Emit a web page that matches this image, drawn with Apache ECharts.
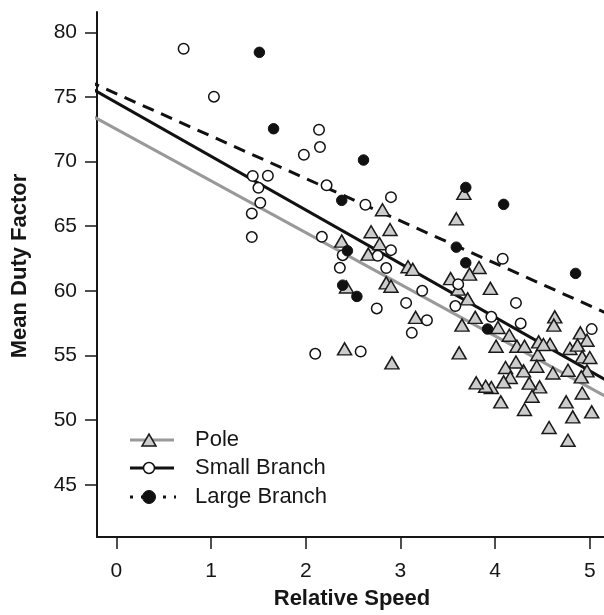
<!DOCTYPE html>
<html>
<head>
<meta charset="utf-8">
<script src="https://cdn.jsdelivr.net/npm/echarts@6/dist/echarts.min.js"></script>
<style>html,body{margin:0;padding:0;background:#fff}#c{width:604px;height:615px}</style>
</head>
<body>
<div id="c"></div>
<script>
// ---- data ----
var xTicks = [0, 1, 2, 3, 4, 5];
var yTicks = [45, 50, 55, 60, 65, 70, 75, 80];

var poleData = [
  [3.67,67.54],[3.59,65.57],[2.81,66.27],[2.69,64.57],[2.89,64.75],[2.78,63.64],
  [2.66,62.84],[2.38,63.85],[3.08,61.86],[3.13,61.66],[3.83,61.81],[3.73,61.29],
  [3.53,60.95],[3.61,60.13],[3.71,59.38],[3.95,60.19],[2.85,60.62],[2.90,60.36],
  [3.16,57.95],[3.79,57.95],[3.65,57.35],[4.03,57.17],[4.15,56.57],[4.01,55.72],
  [4.23,55.72],[4.31,55.72],[4.45,55.08],[4.46,56.05],[4.58,55.87],[4.63,57.99],
  [4.62,57.35],[4.79,55.54],[4.90,56.75],[4.97,56.18],[4.87,55.80],[4.92,54.89],
  [5.00,54.84],[4.97,53.81],[4.91,53.35],[4.92,52.10],[4.77,53.86],[4.61,53.65],
  [4.44,54.17],[4.47,52.57],[4.39,51.85],[4.36,52.86],[4.30,53.81],[4.22,54.50],
  [4.11,54.07],[4.16,53.30],[4.09,52.96],[3.96,52.52],[3.90,52.62],[3.80,52.88],
  [4.06,51.41],[4.31,50.82],[4.75,51.41],[5.02,50.64],[4.82,50.25],[4.57,49.43],
  [4.77,48.44],[3.62,55.20],[2.91,54.43],[2.41,55.51],[2.43,60.30],[4.51,55.85]
];
var smallData = [
  [0.71,78.73],[1.03,75.02],[2.14,72.46],[2.15,71.12],[1.98,70.53],[1.44,68.88],
  [1.60,68.90],[1.50,67.97],[1.52,66.81],[1.43,65.99],[1.43,64.16],[2.22,68.16],
  [2.17,64.18],[2.39,62.76],[2.36,61.78],[2.63,66.66],[2.90,67.25],[2.90,63.15],
  [2.76,62.71],[2.85,61.76],[4.08,62.48],[2.75,58.64],[2.10,55.13],[2.58,55.31],
  [3.23,60.00],[3.06,59.07],[3.28,57.73],[3.12,56.75],[3.61,60.52],[3.58,58.82],
  [4.22,59.07],[3.96,57.99],[4.27,57.48],[5.02,57.04]
];
var largeData = [
  [1.51,78.45],[1.66,72.54],[2.38,67.00],[2.44,63.10],[2.61,70.12],[2.39,60.44],
  [2.54,59.57],[3.69,68.00],[4.09,66.69],[3.59,63.38],[3.69,62.17],[4.85,61.35],
  [3.92,57.05]
];
// fitted lines (end points)
var poleFit  = [[-0.3, 73.70], [5.3, 51.30]];
var smallFit = [[-0.3, 75.80], [5.3, 52.56]];
var largeFit = [[-0.3, 76.23], [5.3, 57.87]];

var legendNames = ['Pole', 'Small Branch', 'Large Branch'];

// ---- chart ----
var ink = '#161616';
var chart = echarts.init(document.getElementById('c'), null, {renderer: 'canvas'});
var font = 'Liberation Sans, Arial, Helvetica, sans-serif';

function lineSeries(data, color, type, w) {
  return {
    type: 'line', data: data, symbol: 'none', silent: true, clip: true, z: 2,
    lineStyle: {color: color, width: w, type: type}, animation: false
  };
}

var legX0 = 130, legX1 = 174, legM = 149, legT = 195, legY = [440, 468, 497];

chart.setOption({
  animation: false,
  grid: {left: 97, top: 12, right: 0, bottom: 78, containLabel: false},
  xAxis: {
    type: 'value', min: -0.205, max: 5.15,
    axisLine: {show: true, onZero: false, lineStyle: {color: ink, width: 2}},
    axisTick: {show: true, customValues: xTicks, length: 12, inside: false, lineStyle: {color: ink, width: 1.5}},
    axisLabel: {customValues: xTicks, margin: 24, color: ink, fontSize: 21, fontFamily: font},
    splitLine: {show: false}
  },
  yAxis: {
    type: 'value', min: 40.96, max: 81.57,
    axisLine: {show: true, onZero: false, lineStyle: {color: ink, width: 2}},
    axisTick: {show: true, customValues: yTicks, length: 12, inside: false, lineStyle: {color: ink, width: 1.5}},
    axisLabel: {customValues: yTicks, margin: 20, color: ink, fontSize: 21, fontFamily: font},
    splitLine: {show: false}
  },
  series: [
    lineSeries(poleFit, '#999999', 'solid', 3),
    lineSeries(smallFit, '#111111', 'solid', 3),
    lineSeries(largeFit, '#111111', [12, 8], 3),
    {
      type: 'scatter', name: legendNames[0], data: poleData, symbol: 'triangle', symbolSize: [14, 12], z: 3,
      itemStyle: {color: '#cccccc', borderColor: '#1a1a1a', borderWidth: 1.5, opacity: 1}
    },
    {
      type: 'scatter', name: legendNames[1], data: smallData, symbol: 'circle', symbolSize: 10.5, z: 4,
      itemStyle: {color: '#ffffff', borderColor: '#111', borderWidth: 1.5, opacity: 1}
    },
    {
      type: 'scatter', name: legendNames[2], data: largeData, symbol: 'circle', symbolSize: 10.5, z: 5,
      itemStyle: {color: '#111111', borderColor: '#111', borderWidth: 1, opacity: 1}
    }
  ],
  graphic: [
    {type: 'text', x: 352, y: 599, style: {text: 'Relative Speed', font: 'bold 22px ' + font, fill: ink, textAlign: 'center', textVerticalAlign: 'middle'}},
    {type: 'text', x: 20, y: 266, rotation: Math.PI / 2, style: {text: 'Mean Duty Factor', font: 'bold 22px ' + font, fill: ink, textAlign: 'center', textVerticalAlign: 'middle'}},
    // legend
    {type: 'line', shape: {x1: legX0, y1: legY[0], x2: legX1, y2: legY[0]}, style: {stroke: '#999999', lineWidth: 3}, z: 10},
    {type: 'polygon', shape: {points: [[legM - 7, legY[0] + 6], [legM + 7, legY[0] + 6], [legM, legY[0] - 6]]}, style: {fill: '#cccccc', stroke: '#1a1a1a', lineWidth: 1.5}, z: 11},
    {type: 'text', x: legT, y: legY[0], style: {text: legendNames[0], font: '22px ' + font, fill: ink, textVerticalAlign: 'middle'}, z: 11},
    {type: 'line', shape: {x1: legX0, y1: legY[1], x2: legX1, y2: legY[1]}, style: {stroke: '#111', lineWidth: 3}, z: 10},
    {type: 'circle', shape: {cx: legM, cy: legY[1], r: 5.5}, style: {fill: '#fff', stroke: '#111', lineWidth: 1.5}, z: 11},
    {type: 'text', x: legT, y: legY[1], style: {text: legendNames[1], font: '22px ' + font, fill: ink, textVerticalAlign: 'middle'}, z: 11},
    {type: 'line', shape: {x1: legX0, y1: legY[2], x2: legX1 + 2, y2: legY[2]}, style: {stroke: '#111', lineWidth: 3, lineDash: [3, 8]}, z: 10},
    {type: 'circle', shape: {cx: legM, cy: legY[2], r: 6.5}, style: {fill: '#111', stroke: '#111', lineWidth: 1}, z: 11},
    {type: 'text', x: legT, y: legY[2], style: {text: legendNames[2], font: '22px ' + font, fill: ink, textVerticalAlign: 'middle'}, z: 11}
  ]
});
</script>
</body>
</html>
